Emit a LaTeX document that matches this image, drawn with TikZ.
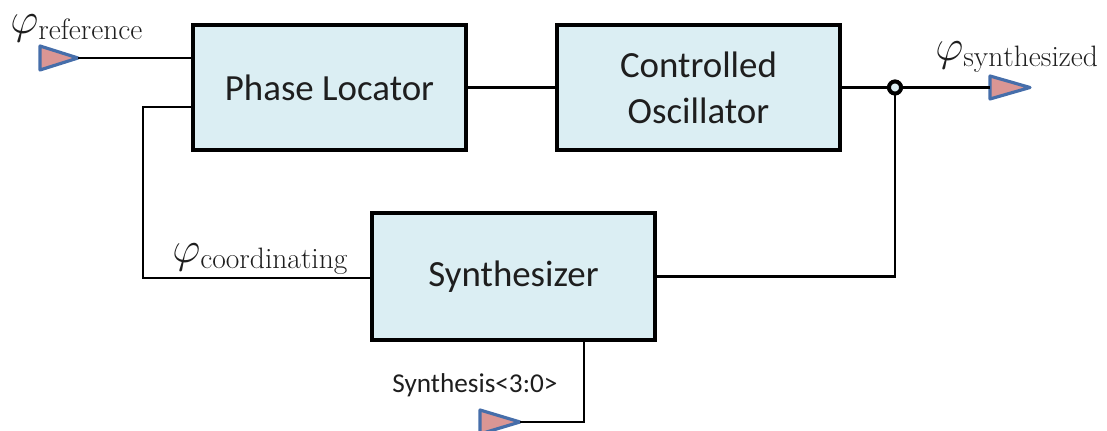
\documentclass[tikz,border=0pt]{standalone}
\usepackage{amsmath}
\usepackage{fontspec}
\setsansfont{Carlito}
\usepackage{tikz}

\definecolor{boxfill}{RGB}{219,238,243}
\definecolor{portfill}{RGB}{218,150,148}
\definecolor{portline}{RGB}{70,110,170}
\definecolor{ink}{RGB}{30,30,30}

\begin{document}
\begin{tikzpicture}[x=0.02cm, y=-0.02cm,
    block/.style={draw=black, line width=2.3pt, fill=boxfill, text=ink,
      minimum height=2.5cm, align=center,
      font=\sffamily\fontsize{21}{26}\selectfont},
    wire/.style={draw=black, line width=1.3pt},
    portarrow/.style={draw=portline, fill=portfill, line width=1.8pt, line join=round},
    junction/.style={circle, draw=black, fill=boxfill, line width=2.2pt,
      inner sep=0pt, minimum size=0.24cm},
    sig/.style={text=ink, font=\fontsize{24}{28}\selectfont, inner sep=0pt}]
      \useasboundingbox (0,0) rectangle (1107,431);
      % Blocks:
      \node[block, minimum width=5.46cm] (loc) at (329.5,87.5) {Phase Locator};
      \node[block, minimum width=5.66cm] (osc) at (698.5,87.5) {Controlled\\Oscillator};
      \node[block, minimum width=5.66cm, minimum height=2.54cm] (synth) at (513.5,276.5) {Synthesizer};
      % Ports:
      \coordinate (refin) at (78,58);
      \coordinate (synthout) at (990,87.5);
      \coordinate (selin) at (520,422);
      \draw[portarrow] (40,46) -- (refin) -- (40,70) -- cycle;
      \draw[portarrow] (synthout) ++(0,-11.5) -- ++(40,11.5) -- ++(-40,11.5) -- cycle;
      \draw[portarrow] (480,410) -- (selin) -- (480,434) -- cycle;
      % Wires:
      \draw[wire] (refin) -- (refin -| loc.west);
      \draw[wire] (loc.east) -- (osc.west);
      \node[junction] (dot) at (895,87.5) {};
      \draw[wire] (osc.east) -- (dot);
      \draw[wire] (dot) -- (synthout);
      \draw[wire] (dot) |- (synth.east);
      \coordinate (fb) at (143,278);
      \draw[wire] (synth.west |- fb) -- (fb) |- (loc.west |- 0,107);
      \draw[wire] (584,340) |- (selin);
      \node[junction] at (dot) {};
      % Labels:
      \node[sig, anchor=west] (lref) at (10,28) {$\varphi_{\mathrm{reference}}$};
      \node[sig, anchor=west] (lsyn) at (935,57) {$\varphi_{\mathrm{synthesized}}$};
      \node[sig, anchor=west] (lcoord) at (172,259) {$\varphi_{\mathrm{coordinating}}$};
      \node[text=ink, font=\sffamily\fontsize{15.5}{18}\selectfont, anchor=west, inner sep=0pt]
        (lsel) at (392,385) {Synthesis<3:0>};
    \end{tikzpicture}
\end{document}
